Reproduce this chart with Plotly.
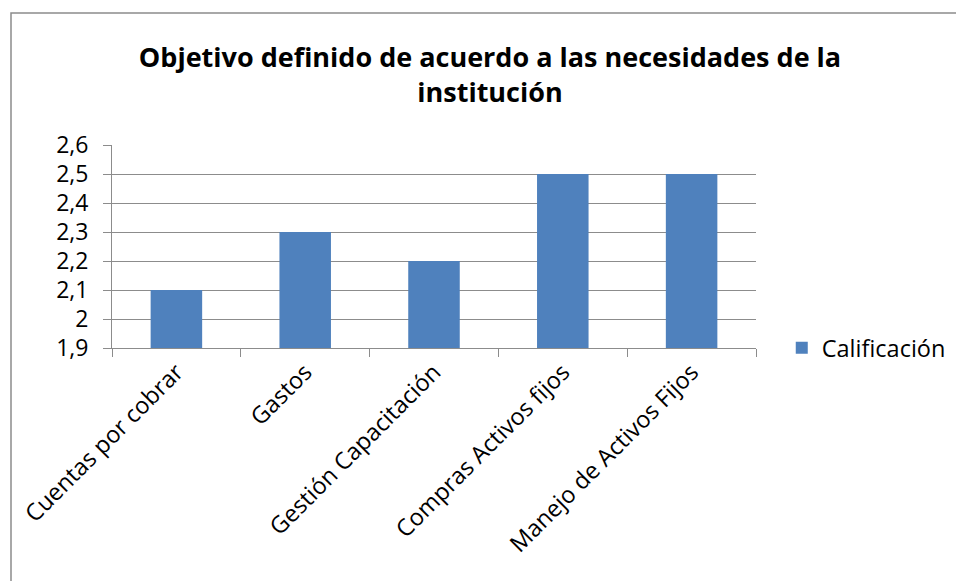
import plotly.graph_objects as go

categorias = ["Cuentas por cobrar", "Gastos", "Gestión Capacitación",
              "Compras Activos fijos", "Manejo de Activos Fijos"]
calificacion = [2.1, 2.3, 2.2, 2.5, 2.5]
y_min = 1.9
y_ticks = [1.9, 2.0, 2.1, 2.2, 2.3, 2.4, 2.5, 2.6]
y_tick_text = ["1,9", "2", "2,1", "2,2", "2,3", "2,4", "2,5", "2,6"]

FONT = "'Open Sans', Lato, sans-serif"
GRID = "#8c8c8c"

fig = go.Figure()
# bars rise from the axis minimum up to each value
fig.add_trace(go.Bar(
    x=categorias,
    y=[v - y_min for v in calificacion],
    base=y_min,
    name="Calificación",
    marker=dict(color="#4f81bd", line=dict(width=0)),
    hovertemplate="%{x}: %{customdata}<extra></extra>",
    customdata=calificacion,
))

fig.update_layout(
    width=956, height=581,
    paper_bgcolor="white", plot_bgcolor="white",
    margin=dict(l=112, r=200, t=145, b=233, autoexpand=False),
    bargap=0.6,
    showlegend=True,
    font=dict(family=FONT, color="black"),
    title=dict(
        text="<b>Objetivo definido de acuerdo a las necesidades de la<br>institución</b>",
        x=490 / 956, xanchor="center", xref="container",
        y=1 - 67 / 581, yanchor="top", yref="container",
        font=dict(family=FONT, size=27, color="black"),
    ),
    legend=dict(
        x=1.04, y=0.0, xanchor="left", yanchor="middle",
        font=dict(family=FONT, size=23.5, color="black"),
        itemwidth=30, tracegroupgap=0,
    ),
    shapes=[dict(
        type="rect", xref="paper", yref="paper",
        x0=-101 / 644, x1=1.5, y0=-1.5, y1=1 + 132 / 203,
        line=dict(color="#8c8c8c", width=1.5), layer="below",
    )],
)
fig.update_xaxes(
    showline=True, linecolor=GRID, linewidth=1,
    ticks="outside", ticklen=8, tickcolor=GRID,
    tickson="boundaries",
    tickangle=-45,
    tickfont=dict(family=FONT, size=23.5, color="black"),
    showgrid=False,
)
fig.update_yaxes(
    range=[1.9, 2.6],
    tickvals=y_ticks, ticktext=y_tick_text,
    showline=True, linecolor=GRID, linewidth=1,
    ticks="outside", ticklen=8, tickcolor=GRID,
    ticklabelstandoff=10,
    showgrid=True, gridcolor=GRID, gridwidth=1,
    zeroline=False,
    tickfont=dict(family=FONT, size=23, color="black"),
)

fig.write_html("out.html")
